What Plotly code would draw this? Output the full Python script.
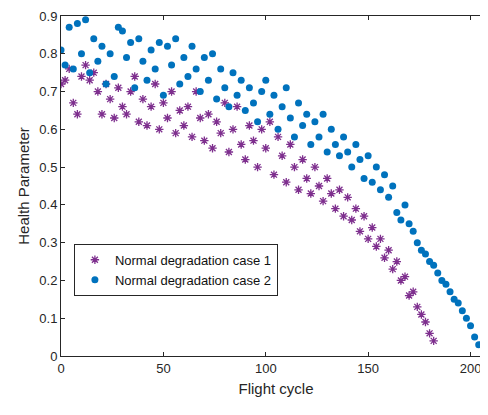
import plotly.graph_objects as go

# flight cycles and health parameter
cycles_1 = list(range(0, 184, 2))
health_1 = [0.72, 0.73, 0.76, 0.67, 0.64, 0.74, 0.77, 0.73, 0.75, 0.70,
            0.64, 0.72, 0.68, 0.63, 0.71, 0.66, 0.64, 0.70, 0.74, 0.62,
            0.68, 0.61, 0.66, 0.72, 0.60, 0.67, 0.63, 0.70, 0.59, 0.65,
            0.61, 0.66, 0.58, 0.70, 0.63, 0.57, 0.64, 0.55, 0.62, 0.59,
            0.67, 0.54, 0.60, 0.66, 0.56, 0.52, 0.61, 0.57, 0.50, 0.60,
            0.55, 0.62, 0.48, 0.58, 0.53, 0.46, 0.56, 0.50, 0.44, 0.52,
            0.47, 0.43, 0.50, 0.45, 0.41, 0.47, 0.43, 0.39, 0.44, 0.37,
            0.42, 0.36, 0.39, 0.33, 0.37, 0.31, 0.34, 0.29, 0.31, 0.26,
            0.28, 0.23, 0.25, 0.20, 0.21, 0.16, 0.17, 0.13, 0.11, 0.09,
            0.06, 0.04]

cycles_2 = list(range(0, 206, 2))
health_2 = [0.81, 0.77, 0.87, 0.76, 0.88, 0.80, 0.89, 0.75, 0.84, 0.78,
            0.82, 0.72, 0.80, 0.74, 0.87, 0.86, 0.79, 0.83, 0.71, 0.84,
            0.78, 0.73, 0.81, 0.76, 0.83, 0.69, 0.82, 0.77, 0.84, 0.72,
            0.79, 0.74, 0.82, 0.76, 0.70, 0.79, 0.73, 0.80, 0.68, 0.76,
            0.71, 0.66, 0.75, 0.69, 0.73, 0.65, 0.71, 0.67, 0.62, 0.70,
            0.73, 0.64, 0.69, 0.60, 0.66, 0.71, 0.63, 0.58, 0.67, 0.61,
            0.64, 0.56, 0.62, 0.58, 0.64, 0.54, 0.60, 0.56, 0.53, 0.58,
            0.54, 0.50, 0.56, 0.52, 0.47, 0.53, 0.46, 0.50, 0.44, 0.48,
            0.42, 0.45, 0.38, 0.36, 0.40, 0.35, 0.33, 0.30, 0.28, 0.27,
            0.25, 0.24, 0.22, 0.20, 0.19, 0.17, 0.15, 0.14, 0.12, 0.10,
            0.08, 0.05, 0.03]

fig = go.Figure()
fig.add_trace(go.Scatter(x=cycles_1, y=health_1, mode="markers",
                         name="Normal degradation case 1",
                         marker=dict(symbol="asterisk-open", size=7, color="#7E2F8E",
                                     line=dict(color="#7E2F8E", width=1.3))))
fig.add_trace(go.Scatter(x=cycles_2, y=health_2, mode="markers",
                         name="Normal degradation case 2",
                         marker=dict(symbol="circle", size=7, color="#0072BD")))

axis = dict(showgrid=False, zeroline=False, showline=True, mirror="ticks",
            linecolor="#262626", linewidth=1, ticks="inside", ticklen=4,
            tickcolor="#262626", tickfont=dict(size=13, color="#262626"),
            automargin=False)
fig.update_xaxes(axis, range=[0, 210], tickvals=[0, 50, 100, 150, 200],
                 title=dict(text="Flight cycle", standoff=8,
                            font=dict(size=15, color="#262626")))
fig.update_yaxes(axis, range=[0, 0.9], dtick=0.1, tickformat=".1~f",
                 title=dict(text="Health Parameter", standoff=6,
                            font=dict(size=15, color="#262626")))
fig.update_layout(
    width=488, height=415, margin=dict(l=53, r=5, t=8, b=67),
    plot_bgcolor="white", paper_bgcolor="white",
    font=dict(family="Liberation Sans, Arial, sans-serif"),
    legend=dict(x=0.03, y=0.33, xanchor="left", yanchor="top",
                bgcolor="white", bordercolor="#262626", borderwidth=1,
                font=dict(size=13, color="#111111")),
)
fig.write_html("out.html")
